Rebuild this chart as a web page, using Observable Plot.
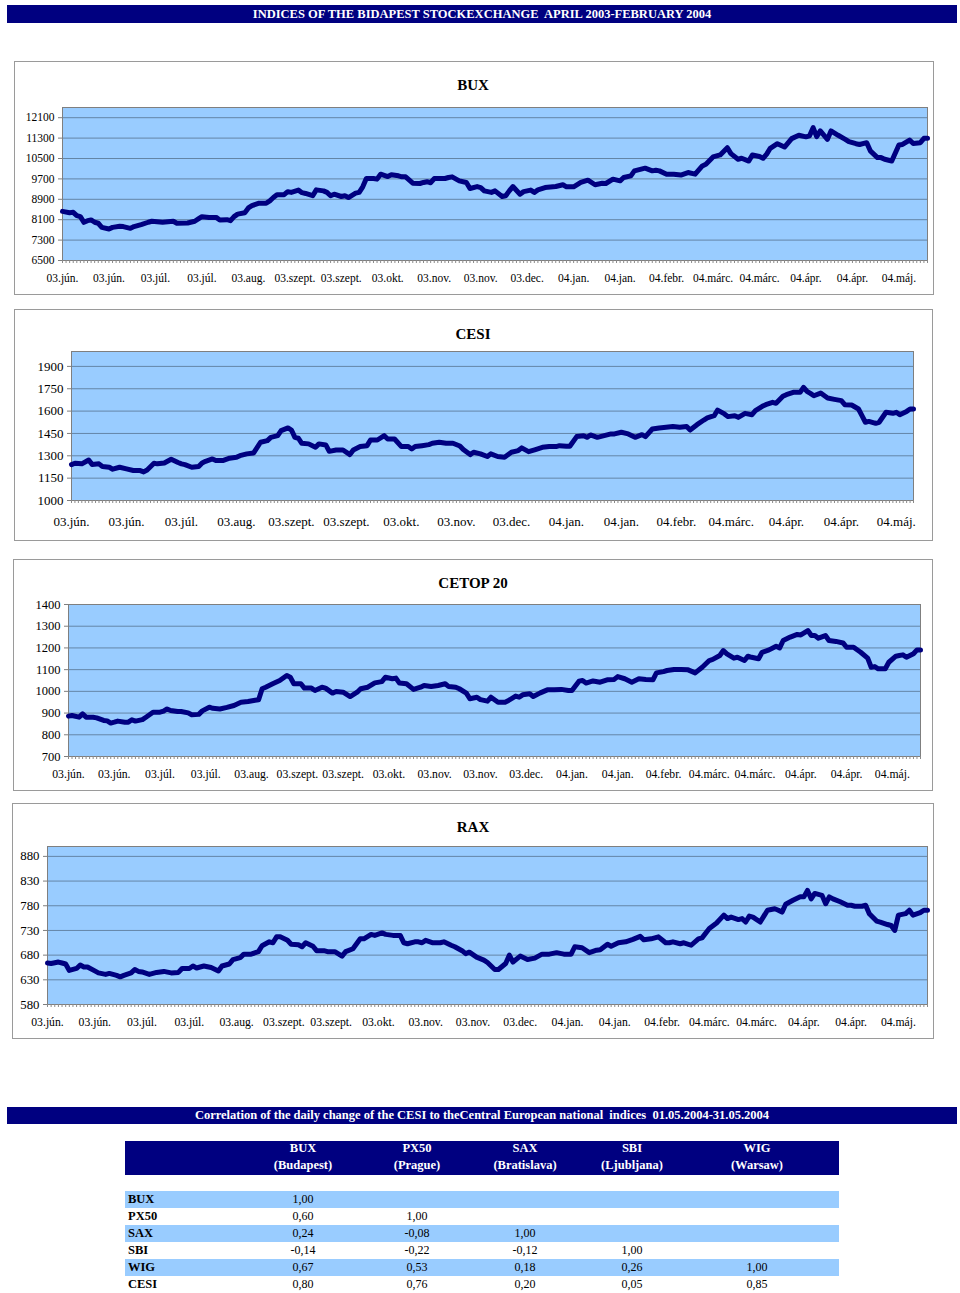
<!DOCTYPE html>
<html><head><meta charset="utf-8">
<script src="https://cdn.jsdelivr.net/npm/d3@7"></script>
<script src="https://cdn.jsdelivr.net/npm/@observablehq/plot@0.6"></script>
<style>
body{margin:0;background:#fff}
#page{position:relative;width:960px;height:1293px;overflow:hidden;font-family:"Liberation Serif","Times New Roman",serif;color:#000;background:#fff}
.bar{position:absolute;left:7px;width:950px;background:#000080;color:#fff;font-weight:bold;font-size:12.5px;text-align:center;white-space:pre}
.panel{position:absolute;border:1px solid #9a9a9a;box-sizing:border-box;background:#fff}
.ptitle{position:absolute;left:0;width:946px;text-align:center;font-weight:bold;font-size:15px;line-height:15px}
.cell{position:absolute;white-space:pre;line-height:17px}
</style></head>
<body><div id="page"></div>
<script>
// ---------- DATA ----------
const pageTitle = "INDICES OF THE BIDAPEST STOCKEXCHANGE  APRIL 2003-FEBRUARY 2004";
const corrTitle = "Correlation of the daily change of the CESI to theCentral European national  indices  01.05.2004-31.05.2004";

const labels19 = ["03.jún.","03.jún.","03.júl.","03.júl.","03.aug.","03.szept.","03.szept.","03.okt.","03.nov.","03.nov.","03.dec.","04.jan.","04.jan.","04.febr.","04.márc.","04.márc.","04.ápr.","04.ápr.","04.máj."];
const labels16 = ["03.jún.","03.jún.","03.júl.","03.aug.","03.szept.","03.szept.","03.okt.","03.nov.","03.dec.","04.jan.","04.jan.","04.febr.","04.márc.","04.ápr.","04.ápr.","04.máj."];

// BUX (trading day, index value)
const buxDay = [0,2,3,4,5,6,7,8,9,10,11,13,14,16,17,19,20,22,24,25,28,31,32,35,37,38,39,41,43,44,46,47,48,49,51,52,53,55,57,58,59,60,62,63,64,66,67,68,70,71,73,74,75,76,78,79,80,82,83,84,85,87,88,89,91,92,94,95,96,98,100,101,102,103,104,106,107,108,109,111,113,114,116,117,118,120,121,123,124,125,126,128,129,131,132,133,135,138,140,141,143,145,147,149,151,152,154,156,157,159,160,163,165,166,167,169,171,173,175,177,179,180,182,184,186,187,189,190,192,193,195,196,197,198,200,202,204,206,208,209,210,211,212,214,215,217,219,220,222,223,225,226,228,229,230,232,234,235,237,238,240,241,242];
const buxValue = [8427,8375,8388,8258,8220,7997,8062,8090,8000,7960,7800,7737,7800,7840,7830,7760,7830,7906,8000,8040,8000,8040,7960,7970,8040,8130,8220,8190,8190,8090,8100,8060,8220,8320,8375,8560,8650,8750,8750,8840,8970,9080,9080,9200,9170,9260,9160,9130,9040,9270,9230,9170,9040,9100,9010,9040,8970,9140,9170,9390,9715,9715,9690,9885,9790,9860,9820,9780,9780,9530,9520,9560,9590,9550,9715,9715,9715,9755,9780,9625,9560,9325,9400,9360,9230,9170,9230,9010,9040,9230,9400,9100,9200,9260,9170,9270,9360,9400,9470,9390,9390,9560,9650,9470,9530,9520,9690,9625,9755,9820,10015,10120,10015,10040,10015,9885,9885,9850,9950,9885,10210,10275,10560,10640,10925,10690,10470,10510,10400,10640,10580,10510,10670,10900,11080,10950,11280,11410,11350,11390,11710,11360,11580,11250,11580,11410,11250,11160,11080,11050,11120,10800,10535,10535,10470,10400,11030,11050,11225,11090,11120,11290,11290];
const buxTicks = [6500,7300,8100,8900,9700,10500,11300,12100];

// CESI
const cesiDay = [0,1,3,5,6,8,9,11,12,14,16,18,20,21,22,24,25,27,29,31,32,33,35,37,38,39,41,42,44,46,48,49,51,53,55,57,58,60,61,63,64,65,66,67,69,71,72,74,75,77,79,81,82,84,86,87,89,91,92,94,96,98,99,100,102,104,105,107,109,111,113,114,116,117,119,121,122,124,126,128,130,131,133,135,137,139,141,142,144,145,147,149,150,151,153,155,157,158,160,162,164,166,167,169,171,173,175,177,179,180,182,184,185,187,188,190,191,193,194,196,198,199,201,202,204,205,207,208,210,212,213,214,215,216,218,220,222,224,225,227,229,230,231,232,234,235,237,239,240,241,243,244,245];
const cesiValue = [1241,1250,1246,1272,1241,1246,1228,1223,1210,1223,1212,1201,1201,1192,1205,1250,1246,1252,1277,1255,1246,1241,1223,1228,1252,1263,1279,1268,1268,1284,1290,1301,1313,1319,1391,1402,1424,1435,1469,1487,1473,1424,1418,1384,1380,1357,1380,1373,1330,1339,1339,1308,1339,1362,1368,1406,1406,1435,1413,1413,1362,1362,1346,1362,1368,1375,1384,1391,1384,1384,1366,1342,1308,1324,1313,1295,1313,1295,1290,1324,1335,1353,1328,1342,1357,1362,1362,1368,1364,1364,1429,1435,1424,1440,1424,1435,1447,1447,1458,1447,1424,1442,1429,1480,1487,1491,1496,1491,1496,1473,1509,1540,1554,1569,1607,1581,1563,1569,1558,1585,1576,1603,1632,1643,1659,1652,1699,1710,1726,1726,1759,1733,1719,1703,1721,1688,1679,1670,1643,1641,1614,1569,1525,1531,1518,1525,1592,1585,1592,1576,1598,1614,1614];
const cesiTicks = [1000,1150,1300,1450,1600,1750,1900];

// CETOP 20
const cetopDay = [0,1,3,4,5,7,8,10,11,12,13,14,16,17,18,19,21,22,24,26,27,28,29,31,32,34,35,37,38,40,41,43,45,47,49,51,53,54,55,56,58,60,62,63,64,66,67,69,70,72,73,75,76,78,80,82,83,85,87,89,90,92,93,94,96,98,100,101,103,105,107,108,110,111,113,114,116,117,119,120,122,124,125,127,128,129,131,132,134,136,138,140,142,143,145,146,147,149,151,153,155,156,158,160,162,164,166,167,169,170,172,174,176,178,180,182,183,185,186,187,189,190,192,193,194,196,197,199,201,202,203,205,207,208,210,211,212,213,215,216,218,220,221,223,225,227,228,229,230,232,233,235,236,237,238,240,241,242];
const cetopValue = [886,889,881,896,881,881,878,866,864,854,858,863,858,858,869,863,870,881,904,904,909,919,912,907,907,901,892,894,910,927,922,919,926,935,950,953,959,961,1012,1019,1035,1050,1073,1065,1035,1035,1015,1015,1004,1019,1015,992,999,996,976,996,1012,1019,1039,1045,1065,1058,1061,1038,1035,1009,1019,1027,1022,1027,1035,1022,1019,1012,992,966,973,962,955,973,950,950,958,978,973,984,989,976,993,1007,1007,1009,1004,1004,1047,1050,1038,1048,1042,1053,1055,1068,1058,1042,1058,1055,1053,1085,1091,1096,1101,1101,1099,1085,1111,1142,1147,1165,1188,1173,1153,1157,1142,1162,1157,1150,1180,1191,1208,1200,1234,1250,1262,1260,1280,1257,1257,1245,1257,1234,1230,1223,1203,1203,1180,1153,1111,1114,1104,1104,1134,1162,1165,1168,1157,1173,1191,1191];
const cetopTicks = [700,800,900,1000,1100,1200,1300,1400];

// RAX
const raxDay = [0,1,3,4,5,6,8,9,10,11,13,14,16,17,19,20,21,23,24,25,26,28,30,32,34,36,37,39,40,41,43,45,47,48,50,51,53,54,56,58,59,61,62,63,64,66,67,69,70,71,73,74,76,77,79,81,82,84,86,87,89,90,92,93,95,97,98,99,101,102,103,104,106,108,109,111,112,114,115,116,118,119,120,121,123,124,126,127,128,130,132,134,136,138,140,142,144,145,147,149,151,152,154,155,157,159,161,163,164,166,168,170,171,172,174,175,177,179,180,182,184,186,187,188,190,191,192,193,194,196,197,198,200,201,202,203,205,207,208,209,210,211,213,214,215,216,218,220,221,222,224,225,226,228,229,231,232,233,234,236,237,238,240,241,242];
const raxValue = [664,663,666,664,662,649,653,660,656,656,648,644,641,643,639,636,639,644,651,647,646,641,645,647,644,645,653,653,658,654,658,655,648,658,662,671,675,682,682,687,699,707,705,717,717,710,702,701,697,705,698,689,689,687,687,678,687,693,713,713,722,720,725,722,720,720,705,703,707,707,705,710,705,705,707,700,697,689,683,686,676,673,670,665,651,651,663,680,666,678,671,674,682,682,685,682,682,697,695,685,690,691,702,698,705,707,712,718,711,713,717,705,705,707,703,705,700,713,715,734,745,761,754,757,752,754,747,759,757,747,759,771,774,771,767,783,791,798,798,811,794,805,801,784,798,794,788,781,781,779,779,781,764,749,747,742,740,730,761,764,771,761,766,771,771];
const raxTicks = [580,630,680,730,780,830,880];

// Correlation table
const corrCols = ["BUX","PX50","SAX","SBI","WIG"];
const corrCities = ["(Budapest)","(Prague)","(Bratislava)","(Ljubljana)","(Warsaw)"];
const corrRows = ["BUX","PX50","SAX","SBI","WIG","CESI"];
const corrBUX  = [1.00, 0.60, 0.24, -0.14, 0.67, 0.80];
const corrPX50 = [null, 1.00, -0.08, -0.22, 0.53, 0.76];
const corrSAX  = [null, null, 1.00, -0.12, 0.18, 0.20];
const corrSBI  = [null, null, null, 1.00, 0.26, 0.05];
const corrWIG  = [null, null, null, null, 1.00, 0.85];

// ---------- LAYOUT ----------
const page = document.getElementById("page");
const serif = '"Liberation Serif","Times New Roman",serif';
function el(cls, css, text) {
  const d = document.createElement("div");
  if (cls) d.className = cls;
  Object.assign(d.style, css);
  if (text != null) d.textContent = text;
  page.appendChild(d);
  return d;
}

el("bar", {top: "5px", height: "18px", lineHeight: "18px"}, pageTitle);

const charts = [
  {title: "BUX", panel: [14, 61, 920, 234], titleTop: 78, top: 96, height: 194, ml: 62, mr: 33, mt: 11, mb: 30,
   days: buxDay, values: buxValue, yTicks: buxTicks, yDomain: [6500, 12500], lastDay: 242, labels: labels19, labelStep: 13,
   xPad: 13, xFont: 11.5, yFont: 11.5},
  {title: "CESI", panel: [14, 309, 919, 232], titleTop: 327, top: 340, height: 192, ml: 71, mr: 47, mt: 11, mb: 32,
   days: cesiDay, values: cesiValue, yTicks: cesiTicks, yDomain: [1000, 2000], lastDay: 245, labels: labels16, labelStep: 16,
   xPad: 16, xFont: 13, yFont: 13},
  {title: "CETOP 20", panel: [13, 559, 920, 232], titleTop: 576, top: 594, height: 192, ml: 68, mr: 40, mt: 10, mb: 30,
   days: cetopDay, values: cetopValue, yTicks: cetopTicks, yDomain: [700, 1400], lastDay: 242, labels: labels19, labelStep: 13,
   xPad: 13.5, xFont: 11.7, yFont: 12.5},
  {title: "RAX", panel: [12, 803, 922, 236], titleTop: 820, top: 836, height: 198, ml: 47, mr: 33, mt: 10, mb: 30,
   days: raxDay, values: raxValue, yTicks: raxTicks, yDomain: [580, 900], lastDay: 242, labels: labels19, labelStep: 13,
   xPad: 13, xFont: 11.7, yFont: 12.8}
];

for (const c of charts) {
  const [px, py, pw, ph] = c.panel;
  el("panel", {left: px + "px", top: py + "px", width: pw + "px", height: ph + "px"});
  el("ptitle", {top: c.titleTop + "px"}, c.title);
}

for (const c of charts) {
  const data = c.days.map((d, i) => ({day: d, value: c.values[i]}));
  const labelMap = new Map(c.labels.map((l, i) => [i * c.labelStep, l]));
  const allDays = d3.range(0, c.lastDay + 1);
  const svg = Plot.plot({
    width: 960, height: c.height,
    marginLeft: c.ml, marginRight: c.mr, marginTop: c.mt, marginBottom: c.mb,
    style: {background: "transparent", fontFamily: serif, color: "#000", overflow: "visible"},
    x: {domain: [0, c.lastDay], label: null},
    y: {domain: c.yDomain, label: null},
    marks: [
      Plot.frame({fill: "#99ccff", stroke: "none"}),
      Plot.gridY(c.yTicks, {stroke: "#000", strokeOpacity: 0.35}),
      Plot.frame({stroke: "#7f7f7f", fill: "none"}),
      Plot.axisY(c.yTicks, {tickSize: 4, tickPadding: 4, stroke: "#7f7f7f", fill: "#000", fontSize: c.yFont, tickFormat: d3.format("d"), label: null}),
      Plot.axisX(allDays, {tickSize: 3, stroke: "#8a8a8a", tickFormat: () => "", label: null}),
      Plot.axisX([...labelMap.keys()], {tickSize: 0, tickPadding: c.xPad, fill: "#000", fontSize: c.xFont, tickFormat: d => labelMap.get(d), label: null}),
      Plot.line(data, {x: "day", y: "value", stroke: "#000080", strokeWidth: 5, strokeLinejoin: "round", strokeLinecap: "round"})
    ]
  });
  svg.style.position = "absolute";
  svg.style.left = "0px";
  svg.style.top = c.top + "px";
  page.appendChild(svg);
}

// correlation section
el("bar", {top: "1107px", height: "17px", lineHeight: "17px"}, corrTitle);

const colX = [303, 417, 525, 632, 757];
const tableLeft = 125, tableRight = 839;
el(null, {position: "absolute", left: tableLeft + "px", top: "1141px", width: (tableRight - tableLeft) + "px", height: "34px", background: "#000080"});
corrCols.forEach((name, j) => {
  el("cell", {left: (colX[j] - 60) + "px", width: "120px", top: "1139.5px", textAlign: "center", color: "#fff", fontWeight: "bold", fontSize: "12.5px", lineHeight: "17.5px", whiteSpace: "pre-line"}, name + "\n" + corrCities[j]);
});

const corrByCol = [corrBUX, corrPX50, corrSAX, corrSBI, corrWIG];
const fmt = v => v.toFixed(2).replace(".", ",");
corrRows.forEach((rname, i) => {
  const top = 1191 + i * 17;
  if (i % 2 === 0) {
    el(null, {position: "absolute", left: tableLeft + "px", top: top + "px", width: (tableRight - tableLeft) + "px", height: "17px", background: "#99ccff"});
  }
  el("cell", {left: "128px", top: top + "px", fontWeight: "bold", fontSize: "12.5px"}, rname);
  corrByCol.forEach((col, j) => {
    const v = col[i];
    if (v == null) return;
    el("cell", {left: (colX[j] - 40) + "px", width: "80px", top: top + "px", textAlign: "center", fontSize: "12px"}, fmt(v));
  });
});
</script>
</body></html>
